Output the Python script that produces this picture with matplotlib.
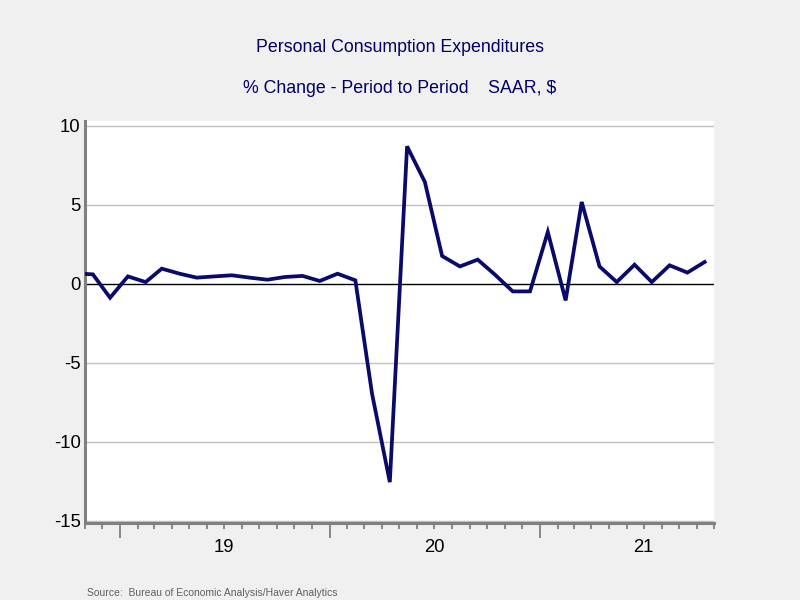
import pandas as pd
import matplotlib
matplotlib.use("Agg")
import matplotlib.pyplot as plt
import matplotlib.dates as mdates
import matplotlib.transforms as mtransforms

# Monthly % change, SAAR (Oct 2018 - Oct 2021)
start_month = '2018-10-01'
pce_change = [0.65, 0.59, -0.89,
              0.46, 0.10, 0.95, 0.63, 0.38, 0.46, 0.53, 0.38, 0.25, 0.42, 0.49, 0.17,
              0.63, 0.21, -6.96, -12.56, 8.69, 6.43, 1.75, 1.09, 1.52, 0.57, -0.49, -0.49,
              3.27, -1.06, 5.17, 1.09, 0.10, 1.20, 0.10, 1.16, 0.70, 1.37]
year_labels = ['19', '20', '21']
year_label_dates = ['2019-07-01', '2020-07-01', '2021-07-01']
y_ticks = [10, 5, 0, -5, -10, -15]

months = pd.date_range(start_month, periods=len(pce_change), freq='MS') + pd.Timedelta(days=14)

plt.rcParams['font.family'] = ['Liberation Sans', 'DejaVu Sans']

fig = plt.figure(figsize=(8, 6), dpi=100, facecolor='#f0f0f0')
ax = fig.add_axes([0.106, 0.129, 0.787, 0.669])
ax.set_facecolor('white')

for yv in y_ticks:
    if yv != 0:
        ax.axhline(yv, color='#c0c0c0', lw=1, zorder=1)
ax.axhline(0, color='black', lw=1, zorder=2)

ax.plot(months, pce_change, color='#0a0a6a', lw=2.7, zorder=3, solid_joinstyle='miter')

ax.set_xlim(pd.Timestamp('2018-11-01'), pd.Timestamp('2021-11-01'))
ax.set_ylim(-15.12, 10.28)

ax.set_yticks(y_ticks)
ax.set_yticklabels([str(v) for v in y_ticks])
ax.tick_params(axis='y', length=0, pad=3, labelsize=13.3, labelcolor='black')

ax.xaxis.set_major_locator(mdates.YearLocator())
ax.xaxis.set_minor_locator(mdates.MonthLocator())
ax.xaxis.set_major_formatter(plt.NullFormatter())
ax.tick_params(axis='x', which='major', length=11, width=1.3, color='#808080', direction='out')
ax.tick_params(axis='x', which='minor', length=4, width=1.3, color='#808080', direction='out')

for s in ['top', 'right']:
    ax.spines[s].set_visible(False)
for s in ['left', 'bottom']:
    ax.spines[s].set_color('#808080')
    ax.spines[s].set_linewidth(2.2)

# year labels centered under each year
trans = mtransforms.blended_transform_factory(ax.transData, fig.transFigure)
for lab, d in zip(year_labels, year_label_dates):
    ax.text(pd.Timestamp(d), 1 - 548 / 600, lab, transform=trans, ha='center', va='center',
            fontsize=13.3, color='black')

fig.text(0.5, 1 - 48 / 600, 'Personal Consumption Expenditures', ha='center', va='center',
         fontsize=12.8, color='#000066')
fig.text(0.5, 1 - 88 / 600, '% Change - Period to Period    SAAR, $', ha='center', va='center',
         fontsize=12.8, color='#000066')
fig.text(87 / 800, 1 - 593 / 600, 'Source:  Bureau of Economic Analysis/Haver Analytics',
         ha='left', va='center', fontsize=7.5, color='#606060')

fig.savefig('out.png', dpi=100, facecolor=fig.get_facecolor())
